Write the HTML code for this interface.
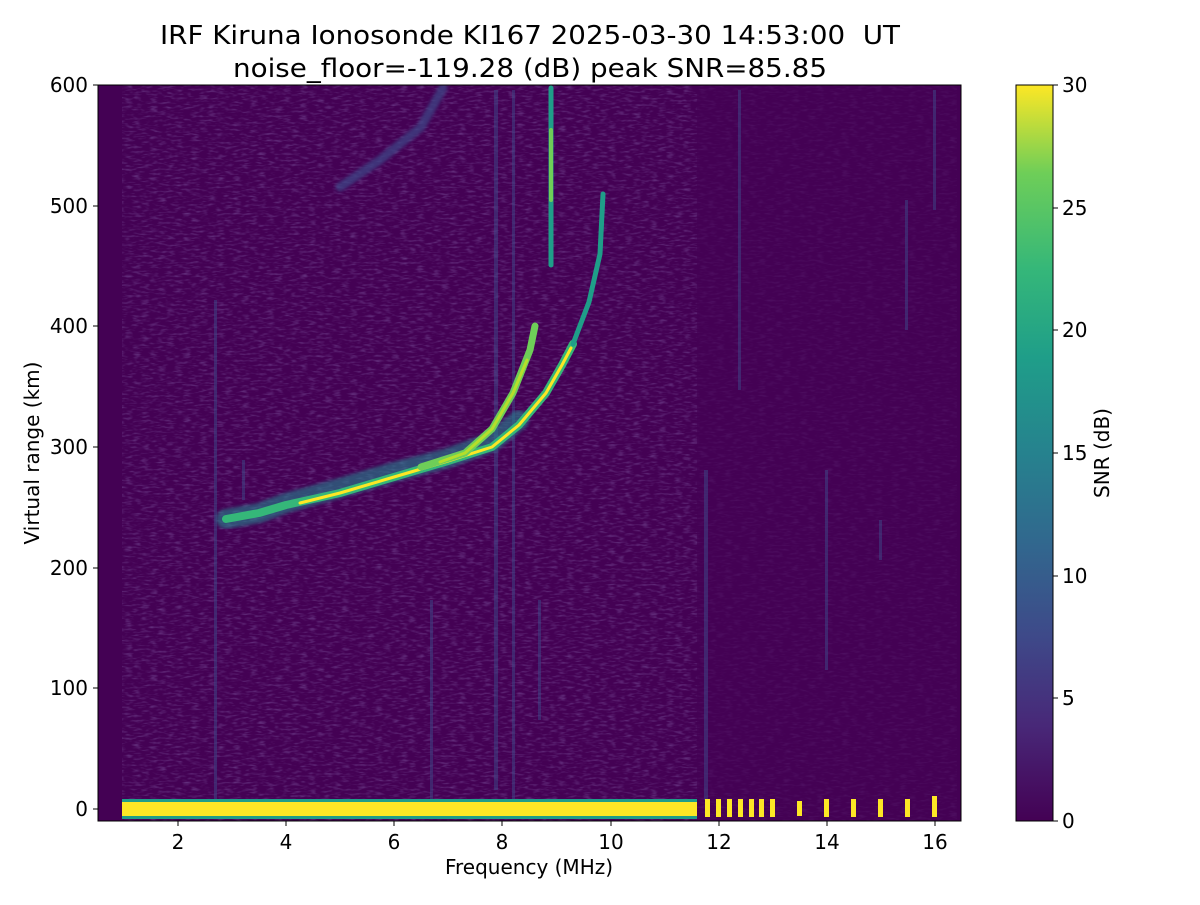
<!DOCTYPE html>
<html><head><meta charset="utf-8"><style>
html,body{margin:0;padding:0;background:#fff;}
svg text{font-family:"DejaVu Sans","Liberation Sans",sans-serif;fill:#000;}
</style></head><body>
<svg width="1200" height="900" viewBox="0 0 1200 900" xmlns="http://www.w3.org/2000/svg">
<defs>
<linearGradient id="vir" x1="0" y1="1" x2="0" y2="0">
<stop offset="0" stop-color="#440154"/><stop offset="0.13" stop-color="#482878"/>
<stop offset="0.25" stop-color="#3e4989"/><stop offset="0.38" stop-color="#31688e"/>
<stop offset="0.5" stop-color="#26828e"/><stop offset="0.63" stop-color="#1f9e89"/>
<stop offset="0.75" stop-color="#35b779"/><stop offset="0.88" stop-color="#6ece58"/>
<stop offset="1" stop-color="#fde725"/></linearGradient>
<filter id="nz" x="0" y="0" width="100%" height="100%">
<feTurbulence type="fractalNoise" baseFrequency="0.12 0.45" numOctaves="2" seed="4"/>
<feColorMatrix type="matrix" values="0 0 0 0 0.28  0 0 0 0 0.17  0 0 0 0 0.48  1.6 0 0 0 -0.75"/>
</filter>
<filter id="bl"><feGaussianBlur stdDeviation="1.5"/></filter>
<clipPath id="pc"><rect x="98" y="85" width="863" height="736"/></clipPath>
</defs>
<text x="530" y="44" font-size="26" text-anchor="middle" textLength="740" lengthAdjust="spacingAndGlyphs">IRF Kiruna Ionosonde KI167 2025-03-30 14:53:00&#160; UT</text>
<text x="530" y="77" font-size="26" text-anchor="middle" textLength="594" lengthAdjust="spacingAndGlyphs">noise_floor=-119.28 (dB) peak SNR=85.85</text>
<g clip-path="url(#pc)">
<rect x="98" y="85" width="863" height="736" fill="#440154"/>
<rect x="122" y="85" width="575" height="736" filter="url(#nz)" opacity="0.6"/>
<rect x="697" y="85" width="260" height="736" filter="url(#nz)" opacity="0.2"/>
<g fill="#3e4989" opacity="0.5">
<rect x="214" y="300" width="3" height="500"/><rect x="494" y="90" width="4" height="700"/>
<rect x="512" y="90" width="3" height="720"/><rect x="538" y="600" width="3" height="120"/>
<rect x="704" y="470" width="4" height="330"/><rect x="738" y="90" width="3" height="300"/>
<rect x="825" y="470" width="3" height="200"/><rect x="905" y="200" width="3" height="130"/>
<rect x="933" y="90" width="3" height="120"/><rect x="879" y="520" width="3" height="40"/>
<rect x="242" y="460" width="3" height="40"/><rect x="430" y="600" width="3" height="200"/>
</g>
<g fill="none" stroke-linecap="round" stroke-linejoin="round">
<path d="M340,187 L380,160 L421,127 L443,88" stroke="#3e4989" stroke-width="9" opacity="0.7" filter="url(#bl)"/>
<path d="M226,519 L259,513 L286,503 L340,488 L394,472 L448,458 L492,442 L519,420" stroke="#26828e" stroke-width="20" opacity="0.6" filter="url(#bl)"/>
<path d="M226,519 L259,513 L286,505 L340,493 L394,477 L448,461 L492,447 L519,425 L546,393 L562,365 L573,344" stroke="#35b779" stroke-width="8"/>
<path d="M573,344 L589,302 L600,254 L603,194" stroke="#1f9e89" stroke-width="5"/>
<path d="M300,503 L340,493 L394,477 L448,461 L492,447 L519,425 L546,393 L562,365 L571,348" stroke="#fde725" stroke-width="3"/>
<path d="M421,467 L465,453 L492,429 L513,393 L530,350 L535,326" stroke="#6ece58" stroke-width="7"/>
<path d="M440,462 L465,453 L492,429 L513,393 L527,360" stroke="#b5de2b" stroke-width="3"/>
<path d="M551,88 L551,265" stroke="#1f9e89" stroke-width="5"/>
<path d="M551,130 L551,200" stroke="#6ece58" stroke-width="4"/>
</g>
<rect x="122" y="799" width="575" height="20" fill="#1f9e89"/>
<rect x="122" y="802" width="575" height="14" fill="#fde725"/>
<g fill="#fde725">
<rect x="705" y="799" width="5" height="18"/><rect x="716" y="799" width="5" height="18"/>
<rect x="727" y="799" width="5" height="18"/><rect x="738" y="799" width="5" height="18"/>
<rect x="749" y="799" width="5" height="18"/><rect x="759" y="799" width="5" height="18"/>
<rect x="770" y="799" width="5" height="18"/><rect x="797" y="801" width="5" height="15"/>
<rect x="824" y="799" width="5" height="18"/><rect x="851" y="799" width="5" height="18"/>
<rect x="878" y="799" width="5" height="18"/><rect x="905" y="799" width="5" height="18"/>
<rect x="932" y="796" width="5" height="21"/>
</g>
</g>
<rect x="98" y="85" width="863" height="736" fill="none" stroke="#000" stroke-width="1"/>
<g stroke="#000" stroke-width="1">
<line x1="178" y1="821" x2="178" y2="826"/><line x1="286" y1="821" x2="286" y2="826"/>
<line x1="394" y1="821" x2="394" y2="826"/><line x1="502" y1="821" x2="502" y2="826"/>
<line x1="611" y1="821" x2="611" y2="826"/><line x1="719" y1="821" x2="719" y2="826"/>
<line x1="827" y1="821" x2="827" y2="826"/><line x1="935" y1="821" x2="935" y2="826"/>
<line x1="93" y1="809" x2="98" y2="809"/><line x1="93" y1="688" x2="98" y2="688"/>
<line x1="93" y1="568" x2="98" y2="568"/><line x1="93" y1="447" x2="98" y2="447"/>
<line x1="93" y1="326" x2="98" y2="326"/><line x1="93" y1="206" x2="98" y2="206"/>
<line x1="93" y1="85" x2="98" y2="85"/>
</g>
<g font-size="20" text-anchor="middle">
<text x="178" y="849">2</text><text x="286" y="849">4</text><text x="394" y="849">6</text>
<text x="502" y="849">8</text><text x="611" y="849">10</text><text x="719" y="849">12</text>
<text x="827" y="849">14</text><text x="935" y="849">16</text>
<text x="529" y="874">Frequency (MHz)</text>
</g>
<g font-size="20" text-anchor="end">
<text x="88" y="816">0</text><text x="88" y="695">100</text><text x="88" y="575">200</text>
<text x="88" y="454">300</text><text x="88" y="333">400</text><text x="88" y="213">500</text>
<text x="88" y="92">600</text>
</g>
<text transform="translate(39,453) rotate(-90)" font-size="20" text-anchor="middle">Virtual range (km)</text>
<rect x="1016" y="85" width="37" height="736" fill="url(#vir)" stroke="#000" stroke-width="1"/>
<g stroke="#000" stroke-width="1">
<line x1="1053" y1="821" x2="1058" y2="821"/><line x1="1053" y1="698" x2="1058" y2="698"/>
<line x1="1053" y1="576" x2="1058" y2="576"/><line x1="1053" y1="453" x2="1058" y2="453"/>
<line x1="1053" y1="330" x2="1058" y2="330"/><line x1="1053" y1="208" x2="1058" y2="208"/>
<line x1="1053" y1="85" x2="1058" y2="85"/>
</g>
<g font-size="20">
<text x="1062" y="828">0</text><text x="1062" y="705">5</text><text x="1062" y="583">10</text>
<text x="1062" y="460">15</text><text x="1062" y="337">20</text><text x="1062" y="215">25</text>
<text x="1062" y="92">30</text>
</g>
<text transform="translate(1109,453) rotate(-90)" font-size="20" text-anchor="middle">SNR (dB)</text>
</svg>
</body></html>
